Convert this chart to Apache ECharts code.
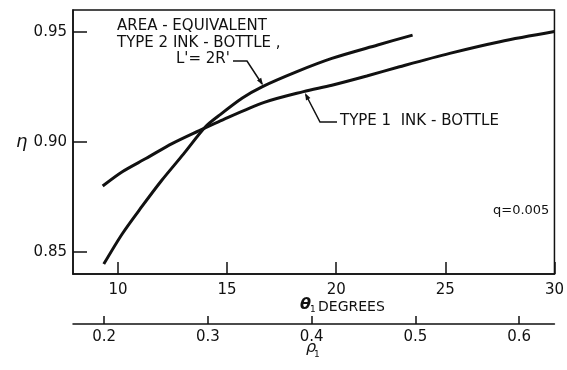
<!DOCTYPE html>
<html>
<head>
<meta charset="utf-8">
<script src="https://cdn.jsdelivr.net/npm/echarts@6/dist/echarts.min.js"></script>
<style>
  html, body { margin: 0; padding: 0; background: #fff; }
  #main { width: 567px; height: 370px; }
</style>
</head>
<body>
<div id="main"></div>
<script>
// type 1 ink-bottle
var theta1 = [9.3, 10.2, 11.3, 12.5, 13.7, 14.6, 16.7, 18.5, 19.8, 21.4, 22.9, 25.2, 27.5, 30.0];
var eta1 = [0.880, 0.8865, 0.8926, 0.8994, 0.9051, 0.9092, 0.9180, 0.9229, 0.9258, 0.9300, 0.9342, 0.9403, 0.9456, 0.9502];

// area-equivalent type 2 ink-bottle
var theta2 = [9.35, 10.2, 11.1, 12.0, 13.0, 14.0, 14.6, 15.7, 16.6, 18.2, 19.8, 21.9, 23.5];
var eta2 = [0.8445, 0.8583, 0.8707, 0.8825, 0.8945, 0.9068, 0.9118, 0.9200, 0.9251, 0.9320, 0.9380, 0.9441, 0.9486];

var thetaTicks = [10, 15, 20, 25, 30];
var rhoTicks = [0.2, 0.3, 0.4, 0.5, 0.6];
var etaTicks = [0.85, 0.90, 0.95];

function pairs(xs, ys) {
  return xs.map(function (x, i) { return [x, ys[i]]; });
}

var ink = '#111';
var font = 'DejaVu Sans';
var lbl = '15px ' + font;

var chart = echarts.init(document.getElementById('main'));

chart.setOption({
  animation: false,
  backgroundColor: '#fff',
  textStyle: { fontFamily: font, color: ink },
  grid: {
    left: 73, right: 8, top: 10, bottom: 96,
    show: true, borderColor: ink, borderWidth: 1.5
  },
  xAxis: [{
    type: 'value',
    min: 7.94, max: 30,
    axisLine: { show: true, lineStyle: { color: ink, width: 1.5 } },
    axisTick: { show: true, inside: true, length: 12, customValues: thetaTicks, lineStyle: { color: ink, width: 1.5 } },
    axisLabel: { customValues: thetaTicks, margin: 9, fontSize: 15, color: ink, fontFamily: font },
    splitLine: { show: false }
  }, {
    type: 'value',
    position: 'bottom',
    offset: 50,
    min: 0.17, max: 0.634,
    axisLine: { show: true, onZero: false, lineStyle: { color: ink, width: 1.5 } },
    axisTick: { show: true, inside: true, length: 8, customValues: rhoTicks, lineStyle: { color: ink, width: 1.5 } },
    axisLabel: {
      customValues: rhoTicks, margin: 6, fontSize: 15, color: ink, fontFamily: font,
      formatter: function (v) { return v.toFixed(1); }
    },
    splitLine: { show: false }
  }],
  yAxis: {
    type: 'value',
    min: 0.84, max: 0.96,
    axisLine: { show: true, lineStyle: { color: ink, width: 1.5 } },
    axisTick: { show: true, inside: true, length: 14, customValues: etaTicks, lineStyle: { color: ink, width: 1.5 } },
    axisLabel: {
      customValues: etaTicks, margin: 6, fontSize: 15, color: ink, fontFamily: font,
      formatter: function (v) { return v.toFixed(2); }
    },
    splitLine: { show: false }
  },
  series: [{
    name: 'TYPE 1 INK - BOTTLE',
    type: 'line',
    xAxisIndex: 0,
    data: pairs(theta1, eta1),
    smooth: 0.3,
    showSymbol: false,
    lineStyle: { color: ink, width: 3 }
  }, {
    name: 'AREA-EQUIVALENT TYPE 2 INK-BOTTLE',
    type: 'line',
    xAxisIndex: 0,
    data: pairs(theta2, eta2),
    smooth: 0.3,
    showSymbol: false,
    lineStyle: { color: ink, width: 3 }
  }],
  graphic: [
    { type: 'text', left: 117, top: 19, style: { text: 'AREA - EQUIVALENT', font: lbl, fill: ink } },
    { type: 'text', left: 117, top: 36, style: { text: 'TYPE 2 INK - BOTTLE ,', font: lbl, fill: ink } },
    { type: 'text', left: 176, top: 52, style: { text: "L'= 2R'", font: lbl, fill: ink } },
    { type: 'polyline', shape: { points: [[233, 61], [247, 61], [262, 84]] }, style: { stroke: ink, lineWidth: 1.5, fill: null } },
    { type: 'polygon', shape: { points: [[263, 85], [261.2, 77.8], [257.0, 80.6]] }, style: { fill: ink } },

    { type: 'text', left: 340, top: 114, style: { text: 'TYPE 1  INK - BOTTLE', font: lbl, fill: ink } },
    { type: 'polyline', shape: { points: [[337, 122], [320, 122], [306, 95]] }, style: { stroke: ink, lineWidth: 1.5, fill: null } },
    { type: 'polygon', shape: { points: [[305, 93], [310.4, 98.1], [306.0, 100.4]] }, style: { fill: ink } },

    { type: 'text', left: 493, top: 204, style: { text: 'q=0.005', font: '13px ' + font, fill: ink } },

    { type: 'text', left: 16, top: 133, style: { text: 'η', font: 'italic 18px ' + font, fill: ink } },

    { type: 'text', left: 300, top: 297, style: { text: 'θ', font: 'italic bold 16px ' + font, fill: ink } },
    { type: 'text', left: 310, top: 305, style: { text: '1', font: '9px ' + font, fill: ink } },
    { type: 'text', left: 318, top: 300, style: { text: 'DEGREES', font: '14px ' + font, fill: ink } },

    { type: 'text', left: 306, top: 340, style: { text: 'ρ', font: 'italic 16px ' + font, fill: ink } },
    { type: 'text', left: 314, top: 350, style: { text: '1', font: '9px ' + font, fill: ink } }
  ]
});
</script>
</body>
</html>
